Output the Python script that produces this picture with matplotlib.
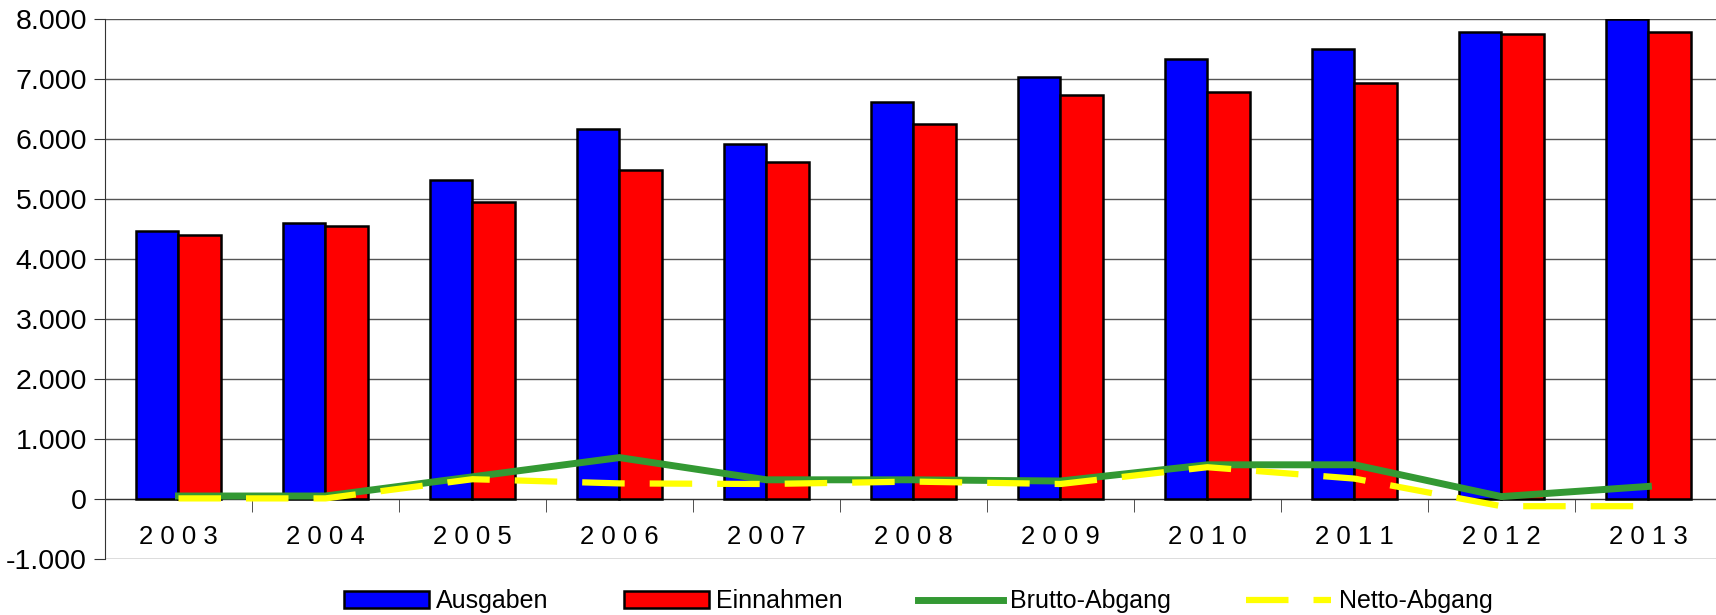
import matplotlib.pyplot as plt
import numpy as np
from matplotlib.patches import Patch
from matplotlib.lines import Line2D

plt.rcParams['font.family'] = ['Liberation Sans', 'DejaVu Sans']

years = ['2003', '2004', '2005', '2006', '2007', '2008', '2009', '2010', '2011', '2012', '2013']
ausgaben = [4470, 4600, 5310, 6170, 5910, 6610, 7040, 7340, 7500, 7775, 8000]
einnahmen = [4400, 4545, 4950, 5480, 5610, 6245, 6740, 6775, 6940, 7745, 7775]
brutto = [50, 50, 370, 690, 320, 320, 300, 570, 570, 40, 210]
netto = [10, 10, 330, 260, 250, 290, 250, 530, 340, -120, -120]

fig = plt.figure(figsize=(17.16, 6.15), dpi=100)
ax = fig.add_axes([105 / 1716, 1 - 559 / 615, 1 - 105 / 1716, (559 - 19) / 615])

x = np.arange(len(years))
w = 0.29
ax.bar(x - w / 2, ausgaben, w, color='#0000FF', edgecolor='black', linewidth=1.8, zorder=3)
ax.bar(x + w / 2, einnahmen, w, color='#FF0000', edgecolor='black', linewidth=1.8, zorder=3)
ax.plot(x, brutto, color='#339933', lw=5, zorder=4, solid_joinstyle='miter')
ax.plot(x, netto, color='#FFFF00', lw=4.5, ls=(0, (6.8, 4.0)), zorder=5)

ax.set_xlim(-0.5, 10.46)
ax.set_ylim(-1000, 8000)
yt = np.arange(-1000, 8001, 1000)
ax.set_yticks(yt)
ax.set_yticklabels([f"{v:,.0f}".replace(',', '.') for v in yt], fontsize=20.5)
ax.yaxis.grid(True, color='#555555', lw=1)
ax.set_axisbelow(True)

ax.spines['top'].set_visible(False)
ax.spines['right'].set_visible(False)
ax.spines['left'].set_color('#333333')
ax.spines['bottom'].set_position(('data', 0))
ax.spines['bottom'].set_color('#333333')
ax.tick_params(axis='y', length=8, color='#333333', pad=5)

ax.set_xticks(x)
ax.set_xticklabels([' '.join(y) for y in years], fontsize=18.5)
ax.set_xticks(np.arange(-0.5, 10.5, 1)[1:], minor=True)
ax.tick_params(axis='x', which='major', length=0, pad=19)
ax.tick_params(axis='x', which='minor', length=9, color='#333333', direction='out')

handles = [
    Patch(facecolor='#0000FF', edgecolor='black', lw=1.8),
    Patch(facecolor='#FF0000', edgecolor='black', lw=1.8),
    Line2D([], [], color='#339933', lw=5),
    Line2D([], [], color='#FFFF00', lw=4.5, ls=(0, (6.8, 4.0))),
]
fig.legend(handles, ['Ausgaben', 'Einnahmen', 'Brutto-Abgang', 'Netto-Abgang'],
           loc='center', bbox_to_anchor=(0.535, 0.022), ncol=4, frameon=False,
           fontsize=18, handlelength=3.4, handleheight=0.7, handletextpad=0.3,
           columnspacing=3.0)

fig.savefig('out.png', dpi=100)
